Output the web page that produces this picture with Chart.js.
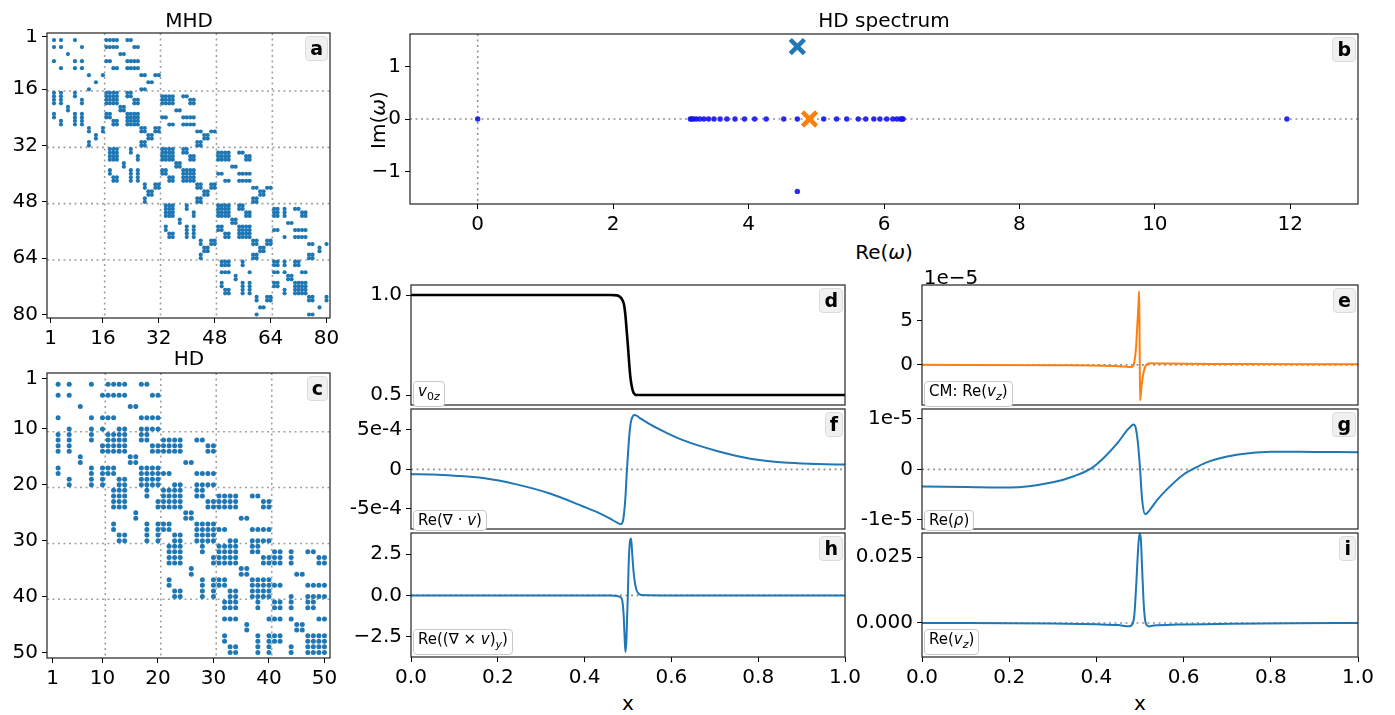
<!DOCTYPE html>
<html>
<head>
<meta charset="utf-8">
<script src="https://cdn.jsdelivr.net/npm/chart.js@4.4.1/dist/chart.umd.min.js"></script>
<style>
  body { margin: 0; background: #fff; width: 1395px; height: 715px; position: relative; overflow: hidden; font-family: "DejaVu Sans", sans-serif; }
  canvas { position: absolute; }
  .t { position: absolute; font-size: 20px; color: #000; white-space: nowrap; transform: translate(-50%, -50%); }
  .tag { position: absolute; font-weight: bold; font-size: 19px; line-height: 23px; background: #f0f0f0; border: 1px solid #dcdcdc; border-radius: 4px; padding: 0 4px; }
  .lab { position: absolute; font-size: 15px; line-height: 19px; background: #fff; border: 1px solid #c8c8c8; border-radius: 4px; padding: 0 4px; transform: translateY(-100%); white-space: nowrap; }
</style>
</head>
<body>
<script>
// ---- sparsity patterns: nonzero columns (1-based) of every matrix row ----
const mhdRows = [
  [], [2,4,8,17,18,19,20,23,24], [], [2,4,10,17,18,19,20,25,26], [], [6,21,22], [], [2,8,10,17,18,23,24,25,26],
  [], [4,8,10,19,20,23,24,25,26], [], [12,16,27,28,31,32], [], [14,29,30], [], [12,27,28],
  [2,4,8,17,18,19,20,23,24], [2,4,8,17,18,19,20,23,24,33,34,35,36,39,40],
  [2,4,10,17,18,19,20,25,26,33,34,35,36,41,42], [2,4,10,17,18,19,20,25,26,33,34,35,36,41,42],
  [6,21,22], [6,21,22,37,38],
  [2,8,10,17,18,23,24,25,26], [2,8,10,17,18,23,24,25,26,33,34,39,40,41,42],
  [4,8,10,19,20,23,24,25,26], [4,8,10,19,20,23,24,25,26,35,36,39,40,41,42],
  [12,16,27,28,31,32], [12,16,27,28,31,32,43,44,47,48],
  [14,29,30,45,46], [14,29,30,45,46], [12,27,28,43,44], [12,27,28,43,44],
  [18,19,20,24,33,34,35,36,39,40], [18,19,20,24,33,34,35,36,39,40,49,50,51,52,55,56],
  [18,19,20,26,33,34,35,36,41,42,49,50,51,52,57,58], [18,19,20,26,33,34,35,36,41,42,49,50,51,52,57,58],
  [22,37,38], [22,37,38,53,54],
  [18,24,26,33,34,39,40,41,42], [18,24,26,33,34,39,40,41,42,49,50,55,56,57,58],
  [19,20,24,26,35,36,39,40,41,42], [19,20,24,26,35,36,39,40,41,42,51,52,55,56,57,58],
  [28,31,32,43,44,47,48], [28,31,32,43,44,47,48,59,60,63,64],
  [29,30,45,46,61,62], [29,30,45,46,61,62], [28,43,44,59,60], [28,43,44,59,60],
  [34,35,36,40,49,50,51,52,55,56], [34,35,36,40,49,50,51,52,55,56,65,66,68,71,72],
  [34,35,36,42,49,50,51,52,57,58,65,66,68,73,74], [34,35,36,42,49,50,51,52,57,58,65,66,68,73,74],
  [38,53,54], [38,53,54,69,70],
  [34,40,42,49,50,55,56,57,58], [34,40,42,49,50,55,56,57,58,65,66,71,72,73,74],
  [35,36,40,42,51,52,55,56,57,58], [35,36,40,42,51,52,55,56,57,58,68,71,72,73,74],
  [44,47,48,59,60,63,64], [44,47,48,59,60,63,64,75,76,80],
  [45,46,61,62,78], [45,46,61,62,78], [44,59,60,75,76], [44,59,60,75,76],
  [50,51,52,56,65,66,68,71,72], [50,51,52,56,65,66,68,71,72], [],
  [50,51,52,58,65,66,68,73,74], [54,69,70], [54,69,70],
  [50,56,58,65,66,71,72,73,74], [50,56,58,65,66,71,72,73,74],
  [51,52,56,58,68,71,72,73,74], [51,52,56,58,68,71,72,73,74],
  [60,63,64,75,76,80], [60,63,64,75,76,80], [], [61,62,78], [], [60,75,76]
];
const hdRows = [
  [], [2,4,8,11,12,13,14,17,18], [], [2,4,10,11,12,13,14,19,20], [], [6,15,16], [],
  [2,8,10,11,12,17,18,19,20], [], [4,8,10,13,14,17,18,19,20],
  [2,4,8,11,12,13,14,17,18], [2,4,8,11,12,13,14,17,18,21,22,23,24,27,28],
  [2,4,10,11,12,13,14,19,20,21,22,23,24,29,30], [2,4,10,11,12,13,14,19,20,21,22,23,24,29,30],
  [6,15,16], [6,15,16,25,26],
  [2,8,10,11,12,17,18,19,20], [2,8,10,11,12,17,18,19,20,21,22,27,28,29,30],
  [4,8,10,13,14,17,18,19,20], [4,8,10,13,14,17,18,19,20,23,24,27,28,29,30],
  [12,13,14,18,21,22,23,24,27,28], [12,13,14,18,21,22,23,24,27,28,31,32,33,34,37,38],
  [12,13,14,20,21,22,23,24,29,30,31,32,33,34,39,40], [12,13,14,20,21,22,23,24,29,30,31,32,33,34,39,40],
  [16,25,26], [16,25,26,35,36],
  [12,18,20,21,22,27,28,29,30], [12,18,20,21,22,27,28,29,30,31,32,37,38,39,40],
  [13,14,18,20,23,24,27,28,29,30], [13,14,18,20,23,24,27,28,29,30,33,34,37,38,39,40],
  [22,23,24,28,31,32,33,34,37,38], [22,23,24,28,31,32,33,34,37,38,41,42,44,47,48],
  [22,23,24,30,31,32,33,34,39,40,41,42,44,49,50], [22,23,24,30,31,32,33,34,39,40,41,42,44,49,50],
  [26,35,36], [26,35,36,45,46],
  [22,28,30,31,32,37,38,39,40], [22,28,30,31,32,37,38,39,40,41,42,47,48,49,50],
  [23,24,28,30,33,34,37,38,39,40], [23,24,28,30,33,34,37,38,39,40,44,47,48,49,50],
  [32,33,34,38,41,42,44,47,48], [32,33,34,38,41,42,44,47,48], [],
  [32,33,34,40,41,42,44,49,50], [36,45,46], [36,45,46],
  [32,38,40,41,42,47,48,49,50], [32,38,40,41,42,47,48,49,50],
  [33,34,38,40,44,47,48,49,50], [33,34,38,40,44,47,48,49,50]
];
const mhdTicks = [1, 16, 32, 48, 64, 80];
const hdTicks = [1, 10, 20, 30, 40, 50];
const mhdBlocks = [16.5, 32.5, 48.5, 64.5];
const hdBlocks = [10.5, 20.5, 30.5, 40.5];

// ---- HD spectrum ----
const eigRe = [0.0, 3.14, 3.16, 3.19, 3.23, 3.28, 3.34, 3.41, 3.49, 3.58, 3.68, 3.80, 3.94, 4.09, 4.26, 4.52, 4.72,
               5.11, 5.30, 5.45, 5.62, 5.73, 5.85, 5.94, 6.04, 6.13, 6.19, 6.24, 6.27, 6.28, 11.95, 4.72];
const eigIm = [0, 0, 0, 0, 0, 0, 0, 0, 0, 0, 0, 0, 0, 0, 0, 0, 0,
               0, 0, 0, 0, 0, 0, 0, 0, 0, 0, 0, 0, 0, 0, -1.38];
const hdModeRe = [4.72], hdModeIm = [1.38];
const cmModeRe = [4.90], cmModeIm = [0];
const reTicks = [0, 2, 4, 6, 8, 10, 12];
const imTicks = [-1, 0, 1];

// ---- eigenfunctions ----
const xV0 = [0, 0.3, 0.46, 0.475, 0.482, 0.487, 0.491, 0.494, 0.497, 0.5, 0.503, 0.506, 0.509, 0.512, 0.516, 0.52, 0.53, 0.7, 1.0];
const v0z = [1.0, 1.0, 1.0, 0.998, 0.99, 0.975, 0.95, 0.9, 0.82, 0.74, 0.65, 0.58, 0.54, 0.515, 0.503, 0.5, 0.5, 0.5, 0.5];

const xDiv = [0, 0.05, 0.1, 0.166, 0.243, 0.32, 0.397, 0.43, 0.459, 0.475, 0.483, 0.488, 0.491, 0.494, 0.497, 0.5,
              0.503, 0.506, 0.509, 0.513, 0.516, 0.525, 0.551, 0.59, 0.628, 0.705, 0.782, 0.859, 0.936, 1.0];
const divV = [-0.61e-4, -0.65e-4, -0.8e-4, -1.1e-4, -1.9e-4, -3.06e-4, -4.7e-4, -5.45e-4, -6.25e-4, -6.75e-4, -6.94e-4,
              -6.6e-4, -5.5e-4, -3.6e-4, -0.6e-4, 2.0e-4, 4.3e-4, 5.8e-4, 6.5e-4, 6.85e-4, 6.9e-4, 6.6e-4, 5.7e-4,
              4.6e-4, 3.67e-4, 2.33e-4, 1.35e-4, 0.86e-4, 0.69e-4, 0.61e-4];

const xCurl = [0, 0.4, 0.46, 0.475, 0.483, 0.487, 0.49, 0.492, 0.494, 0.496, 0.498, 0.4996, 0.501, 0.503, 0.505,
               0.5065, 0.508, 0.51, 0.513, 0.516, 0.52, 0.525, 0.53, 0.6, 1.0];
const curlVy = [0, 0, -0.01, -0.04, -0.12, -0.35, -1.2, -2.4, -3.43, -2.9, -1.3, 0, 1.4, 2.8, 3.35,
                3.45, 3.2, 2.4, 1.4, 0.75, 0.3, 0.1, 0.03, 0, 0];

const xCm = [0, 0.3, 0.45, 0.475, 0.483, 0.487, 0.489, 0.491, 0.493, 0.495, 0.4965, 0.498, 0.4988, 0.4995, 0.5004,
             0.502, 0.5036, 0.506, 0.509, 0.513, 0.518, 0.523, 0.547, 0.7, 1.0];
const cmVz = [0, -0.05e-5, -0.15e-5, -0.25e-5, -0.2e-5, 0.3e-5, 1.0e-5, 2.0e-5, 3.7e-5, 5.5e-5, 6.8e-5, 8.3e-5, 5.0e-5,
              0, -4.0e-5, -3.2e-5, -2.4e-5, -1.5e-5, -0.7e-5, -0.1e-5, 0.12e-5, 0.18e-5, 0.15e-5, 0.1e-5, 0.07e-5];

const xRho = [0, 0.1, 0.2, 0.3, 0.35, 0.39, 0.42, 0.45, 0.47, 0.48, 0.485, 0.49, 0.495, 0.5, 0.505, 0.512, 0.52,
              0.54, 0.56, 0.6, 0.62, 0.65, 0.7, 0.75, 0.8, 0.9, 1.0];
const rho = [-0.34e-5, -0.35e-5, -0.36e-5, -0.255e-5, -0.13e-5, 0.03e-5, 0.255e-5, 0.54e-5, 0.77e-5, 0.86e-5, 0.89e-5,
             0.83e-5, 0.54e-5, 0.03e-5, -0.61e-5, -0.89e-5, -0.83e-5, -0.6e-5, -0.41e-5, -0.1e-5, 0, 0.13e-5,
             0.255e-5, 0.32e-5, 0.35e-5, 0.345e-5, 0.34e-5];

const xVz = [0, 0.3, 0.4, 0.45, 0.475, 0.483, 0.487, 0.489, 0.492, 0.4956, 0.4988, 0.502, 0.505, 0.508, 0.511,
             0.513, 0.517, 0.52, 0.531, 0.587, 0.707, 0.85, 1.0];
const vz = [0, -0.0002, -0.0005, -0.0008, -0.00126, -0.0003, 0.003, 0.0076, 0.0164, 0.0278, 0.0338, 0.0316, 0.0202,
            0.0088, 0.002, 0, -0.001, -0.0013, -0.001, -0.0006, -0.0003, -0.0001, 0];

// ---- helpers ----
const FONT = 'DejaVu Sans';
Chart.defaults.font.family = FONT;
const BLUE = '#1f77b4', ORANGE = '#ff7f0e';

const frame = {
  id: 'frame',
  afterDraw(chart) {
    const a = chart.chartArea, ctx = chart.ctx;
    ctx.save();
    ctx.strokeStyle = '#222';
    ctx.lineWidth = 1.2;
    ctx.strokeRect(a.left, a.top, a.right - a.left, a.bottom - a.top);
    ctx.restore();
  }
};

const refLines = {
  id: 'refLines',
  beforeDatasetsDraw(chart, args, opts) {
    const a = chart.chartArea, ctx = chart.ctx;
    ctx.save();
    ctx.strokeStyle = opts.color || 'rgba(128,128,128,0.85)';
    ctx.lineWidth = opts.width || 1.6;
    ctx.setLineDash(opts.dash || [2, 3.5]);
    (opts.x || []).forEach(v => {
      const px = chart.scales.x.getPixelForValue(v);
      ctx.beginPath(); ctx.moveTo(px, a.top); ctx.lineTo(px, a.bottom); ctx.stroke();
    });
    (opts.y || []).forEach(v => {
      const py = chart.scales.y.getPixelForValue(v);
      ctx.beginPath(); ctx.moveTo(a.left, py); ctx.lineTo(a.right, py); ctx.stroke();
    });
    ctx.restore();
  }
};

function axis(min, max, ticks, labels, extra) {
  return Object.assign({
    type: 'linear', min: min, max: max,
    afterBuildTicks: s => { s.ticks = ticks.map(v => ({ value: v })); },
    ticks: {
      callback: (v, i) => labels[i],
      font: { family: FONT, size: 20 }, color: '#000', padding: 4,
      maxRotation: 0, minRotation: 0, autoSkip: false
    },
    grid: { display: true, drawOnChartArea: false, drawTicks: true, tickLength: 5, color: '#000', lineWidth: 1 },
    border: { display: false }
  }, extra || {});
}

function addPanel(rect, m, showX, cfg) {
  const cv = document.createElement('canvas');
  const w = rect.r - rect.l + m.l + m.r;
  const h = rect.b - rect.t + m.t + m.b;
  cv.width = w; cv.height = h;
  cv.style.left = (rect.l - m.l) + 'px';
  cv.style.top = (rect.t - m.t) + 'px';
  document.body.appendChild(cv);
  const o = cfg.options;
  o.responsive = false;
  o.animation = false;
  o.devicePixelRatio = 1;
  o.layout = { autoPadding: false, padding: { left: 0, top: m.t, right: m.r, bottom: showX ? 0 : m.b } };
  o.scales.x.display = showX;
  o.scales.x.afterFit = s => { s.height = m.b; s.paddingLeft = 0; s.paddingRight = 0; };
  o.scales.y.afterFit = s => { s.width = m.l; s.paddingTop = 0; s.paddingBottom = 0; };
  o.plugins = Object.assign({ legend: { display: false }, tooltip: { enabled: false } }, o.plugins || {});
  cfg.plugins = [frame, refLines];
  return new Chart(cv, cfg);
}

function txt(html, x, y, extraStyle) {
  const d = document.createElement('div');
  d.className = 't';
  d.innerHTML = html;
  d.style.left = x + 'px';
  d.style.top = y + 'px';
  if (extraStyle) d.style.cssText += extraStyle;
  document.body.appendChild(d);
}
function tag(letter, rect) {
  const d = document.createElement('div');
  d.className = 'tag';
  d.textContent = letter;
  d.style.right = (1395 - rect.r + 2) + 'px';
  d.style.top = (rect.t + 3) + 'px';
  document.body.appendChild(d);
}
function lab(html, rect) {
  const d = document.createElement('div');
  d.className = 'lab';
  d.innerHTML = html;
  d.style.left = (rect.l + 2) + 'px';
  d.style.top = (rect.b - 2) + 'px';
  document.body.appendChild(d);
}

function spyPoints(rows) {
  const pts = [];
  rows.forEach((cols, r) => cols.forEach(c => pts.push({ x: c, y: r + 1 })));
  return pts;
}
function xy(xs, ys) { return xs.map((x, i) => ({ x: x, y: ys[i] })); }

// ---- panel rectangles (plot areas in page pixels) ----
const R = {
  a: { l: 47, t: 33, r: 330, b: 318 },
  c: { l: 47, t: 373, r: 330, b: 658 },
  b: { l: 410, t: 34, r: 1358, b: 204 },
  d: { l: 411, t: 285, r: 845, b: 409 },
  f: { l: 411, t: 409, r: 845, b: 533 },
  h: { l: 411, t: 533, r: 845, b: 657 },
  e: { l: 922, t: 285, r: 1358, b: 409 },
  g: { l: 922, t: 409, r: 1358, b: 533 },
  i: { l: 922, t: 533, r: 1358, b: 657 }
};

// ---- a: MHD sparsity ----
addPanel(R.a, { l: 45, r: 22, t: 4, b: 32 }, true, {
  type: 'scatter',
  data: { datasets: [{ data: spyPoints(mhdRows), pointRadius: 2.1, backgroundColor: BLUE, borderWidth: 0 }] },
  options: {
    scales: {
      x: axis(0, 81, mhdTicks, mhdTicks.map(String)),
      y: axis(0, 81, mhdTicks, mhdTicks.map(String), { reverse: true })
    },
    plugins: { refLines: { x: mhdBlocks, y: mhdBlocks, color: 'rgba(150,150,150,0.9)', width: 1.6, dash: [2, 3.5] } }
  }
});

// ---- c: HD sparsity ----
addPanel(R.c, { l: 45, r: 22, t: 4, b: 32 }, true, {
  type: 'scatter',
  data: { datasets: [{ data: spyPoints(hdRows), pointRadius: 2.5, backgroundColor: BLUE, borderWidth: 0 }] },
  options: {
    scales: {
      x: axis(0, 51, hdTicks, hdTicks.map(String)),
      y: axis(0, 51, hdTicks, hdTicks.map(String), { reverse: true })
    },
    plugins: { refLines: { x: hdBlocks, y: hdBlocks, color: 'rgba(150,150,150,0.9)', width: 1.6, dash: [2, 3.5] } }
  }
});

// ---- b: HD spectrum ----
addPanel(R.b, { l: 40, r: 22, t: 4, b: 32 }, true, {
  type: 'scatter',
  data: {
    datasets: [
      { data: xy(hdModeRe, hdModeIm), pointStyle: 'crossRot', pointRadius: 10, borderWidth: 4.5, borderColor: BLUE, order: 0 },
      { data: xy(cmModeRe, cmModeIm), pointStyle: 'crossRot', pointRadius: 10, borderWidth: 4.5, borderColor: ORANGE, order: 0 },
      { data: xy(eigRe, eigIm), pointRadius: 2.7, backgroundColor: 'rgba(20,20,235,0.9)', borderWidth: 0, order: 1 }
    ]
  },
  options: {
    scales: {
      x: axis(-1, 13, reTicks, reTicks.map(String)),
      y: axis(-1.62, 1.62, imTicks, ['\u22121', '0', '1'])
    },
    plugins: { refLines: { x: [0], y: [0] } }
  }
});

// ---- line panels ----
function lineCfg(xs, ys, color, width, ymin, ymax, yt, yl) {
  return {
    type: 'line',
    data: { datasets: [{ data: xy(xs, ys), borderColor: color, borderWidth: width, pointRadius: 0, cubicInterpolationMode: 'monotone', fill: false }] },
    options: {
      scales: {
        x: axis(0, 1, [0, 0.2, 0.4, 0.6, 0.8, 1.0], ['0.0', '0.2', '0.4', '0.6', '0.8', '1.0']),
        y: axis(ymin, ymax, yt, yl)
      },
      plugins: { refLines: { y: [0] } }
    }
  };
}
const mL = { l: 100, r: 22, t: 4, b: 4 };
const mLx = { l: 100, r: 22, t: 4, b: 32 };

const cd = lineCfg(xV0, v0z, '#000', 2.6, 0.45, 1.05, [0.5, 1.0], ['0.5', '1.0']);
cd.options.plugins.refLines = {};
addPanel(R.d, mL, false, cd);
addPanel(R.f, mL, false, lineCfg(xDiv, divV, BLUE, 2, -7.55e-4, 7.65e-4, [-5e-4, 0, 5e-4], ['-5e-4', '0', '5e-4']));
addPanel(R.h, mLx, true, lineCfg(xCurl, curlVy, BLUE, 2, -3.73, 3.78, [-2.5, 0, 2.5], ['\u22122.5', '0.0', '2.5']));
addPanel(R.e, mL, false, lineCfg(xCm, cmVz, ORANGE, 2, -4.52e-5, 8.99e-5, [0, 5e-5], ['0', '5']));
addPanel(R.g, mL, false, lineCfg(xRho, rho, BLUE, 2, -1.18e-5, 1.195e-5, [-1e-5, 0, 1e-5], ['-1e-5', '0', '1e-5']));
addPanel(R.i, mLx, true, lineCfg(xVz, vz, BLUE, 2, -0.0129, 0.0341, [0, 0.025], ['0.000', '0.025']));

// ---- titles, axis labels, annotations ----
txt('MHD', 189, 20);
txt('HD', 189, 358);
txt('HD spectrum', 884, 20);
txt('Re(<i>\u03c9</i>)', 884, 252);
txt('Im(<i>\u03c9</i>)', 378, 120, 'transform: translate(-50%,-50%) rotate(-90deg);');
txt('x', 628, 703);
txt('x', 1140, 703);
txt('1e\u22125', 951, 277);

tag('a', R.a); tag('b', R.b); tag('c', R.c);
tag('d', R.d); tag('e', R.e); tag('f', R.f);
tag('g', R.g); tag('h', R.h); tag('i', R.i);

lab('<i>v</i><sub style="font-size:11px">0<i>z</i></sub>', R.d);
lab('Re(\u2207 \u00b7 <i>v</i>)', R.f);
lab('Re((\u2207 \u00d7 <i>v</i>)<sub style="font-size:11px"><i>y</i></sub>)', R.h);
lab('CM: Re(<i>v<sub style="font-size:11px">z</sub></i>)', R.e);
lab('Re(<i>\u03c1</i>)', R.g);
lab('Re(<i>v<sub style="font-size:11px">z</sub></i>)', R.i);
</script>
</body>
</html>
